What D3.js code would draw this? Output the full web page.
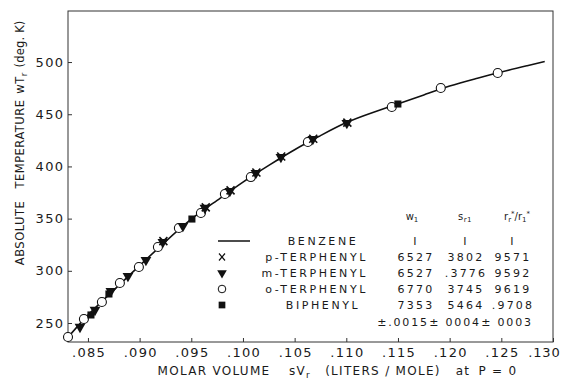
<!DOCTYPE html>
<html>
<head>
<meta charset="utf-8">
<script src="https://cdn.jsdelivr.net/npm/d3@7"></script>
<style>
  html, body { margin: 0; padding: 0; background: #fff; }
  svg text { font-family: "DejaVu Sans", sans-serif; fill: #1a1a1a; }
</style>
</head>
<body>
<svg id="chart" width="563" height="382"></svg>
<script>
// ---- data ----
const xTicks = [0.085, 0.090, 0.095, 0.100, 0.105, 0.110, 0.115, 0.120, 0.125, 0.130];
const yTicks = [250, 300, 350, 400, 450, 500];

// benzene reference curve (molar volume, temperature)
const benzeneV = [0.0830, 0.0850, 0.0875, 0.0900, 0.0925, 0.0950, 0.0975, 0.1000, 0.1025, 0.1050,
                  0.1075, 0.1100, 0.1125, 0.1150, 0.1175, 0.1200, 0.1225, 0.1250, 0.1275, 0.1292];
const benzeneT = [235.5, 257.5, 281.5, 305, 328, 349.5, 367.5, 385, 401, 416,
                  429.5, 442, 451.5, 460, 468.5, 477, 484, 490.5, 496.5, 500.5];

// o-terphenyl (open circles)
const oTerV = [0.08307, 0.08461, 0.08635, 0.08809, 0.08993, 0.09177, 0.0938, 0.09593, 0.09825, 0.10076, 0.10628, 0.1144, 0.11914, 0.12465];
const oTerT = [236.6, 253.8, 270.1, 288.3, 303.6, 322.8, 341, 355.4, 373.6, 389.8, 423.4, 456.9, 475.1, 489.5];

// m-terphenyl (filled down triangles)
const mTerV = [0.08423, 0.08568, 0.08722, 0.08887, 0.09061, 0.09225, 0.09419, 0.09632, 0.09873, 0.10125, 0.10367, 0.10676, 0.11005];
const mTerT = [246.2, 262.5, 280.5, 295, 310.3, 327.6, 342.9, 360.2, 376.4, 393.7, 409, 426.2, 441.6];

// p-terphenyl (x)
const pTerV = [0.0923, 0.0964, 0.0988, 0.1013, 0.1037, 0.1068, 0.1101];
const pTerT = [328.5, 360.8, 377, 394.2, 409.5, 426.5, 442];

// biphenyl (filled squares)
const biphV = [0.08529, 0.08703, 0.09506, 0.11499];
const biphT = [257.7, 277.8, 349.6, 459.8];

// legend table
const legendNames = ["BENZENE", "p-TERPHENYL", "m-TERPHENYL", "o-TERPHENYL", "BIPHENYL"];
const colW  = ["I", "6527", "6527", "6770", "7353"];
const colS  = ["I", "3802", ".3776", "3745", "5464"];
const colR  = ["I", "9571", "9592", "9619", ".9708"];
const errors = ["\u00B1.0015", "\u00B1 0004", "\u00B1 0003"];

// ---- drawing ----
const svg = d3.select("#chart");
const L = 68, R = 553, T = 11, B = 342;
const x = d3.scaleLinear().domain([0.08307, 0.130]).range([L, R]);
const y = d3.scaleLinear().domain([231.8, 548.9]).range([B, T]);
const ink = "#1a1a1a";

// frame
svg.append("rect").attr("x", L).attr("y", T).attr("width", R - L).attr("height", B - T)
  .attr("fill", "none").attr("stroke", "#333").attr("stroke-width", 1);

// axes
const fmtX = d => d3.format(".3f")(d).replace(/^0/, "");
const gx = svg.append("g").attr("transform", `translate(0,${B})`)
  .call(d3.axisBottom(x).tickValues(xTicks).tickSize(-4).tickPadding(6).tickFormat(fmtX));
const gy = svg.append("g").attr("transform", `translate(${L},0)`)
  .call(d3.axisLeft(y).tickValues(yTicks).tickSize(-4).tickPadding(5));
[gx, gy].forEach(g => {
  g.select(".domain").remove();
  g.selectAll(".tick line").attr("stroke", "#333");
  g.selectAll(".tick text").attr("font-size", 13).attr("letter-spacing", 1.3)
    .attr("fill", ink).style("font-family", "DejaVu Sans");
});
gy.selectAll(".tick text").attr("x", -3.7);
gx.selectAll(".tick text").attr("x", 0.6);
gx.selectAll(".tick text").filter(d => Math.abs(d - 0.130) < 1e-9)
  .attr("x", 7).attr("text-anchor", "end").attr("letter-spacing", 0.8);

// axis titles
const xt = svg.append("g").attr("font-size", 12).attr("letter-spacing", 1.3);
xt.append("text").attr("x", 214).attr("y", 375).attr("text-anchor", "middle").text("MOLAR VOLUME");
const sv = xt.append("text").attr("x", 300).attr("y", 375).attr("text-anchor", "middle");
sv.append("tspan").text("sV");
sv.append("tspan").attr("font-size", 9).attr("dy", 3).text("r");
xt.append("text").attr("x", 383).attr("y", 375).attr("text-anchor", "middle").text("(LITERS / MOLE)");
xt.append("text").attr("x", 463).attr("y", 375).attr("text-anchor", "middle").text("at");
xt.append("text").attr("x", 498).attr("y", 375).attr("text-anchor", "middle").text("P = 0");

const yt = svg.append("g").attr("transform", "translate(24,0) rotate(-90)")
  .attr("font-size", 11.5).attr("letter-spacing", 0.5);
yt.append("text").attr("x", -233).attr("y", 0).attr("text-anchor", "middle").text("ABSOLUTE");
yt.append("text").attr("x", -144).attr("y", 0).attr("text-anchor", "middle").text("TEMPERATURE");
const wt = yt.append("text").attr("x", -83).attr("y", 0).attr("text-anchor", "middle");
wt.append("tspan").text("wT");
wt.append("tspan").attr("font-size", 8.5).attr("dy", 3).text("r");
yt.append("text").attr("x", -44).attr("y", 0).attr("text-anchor", "middle").attr("letter-spacing", 0.2).text("(deg. K)");

// benzene curve
const curveData = benzeneV.map((v, i) => [v, benzeneT[i]]);
svg.append("path").datum(curveData)
  .attr("d", d3.line().x(d => x(d[0])).y(d => y(d[1])).curve(d3.curveNatural))
  .attr("fill", "none").attr("stroke", "#111").attr("stroke-width", 1.6);

// markers
const circ = oTerV.map((v, i) => [v, oTerT[i]]);
svg.append("g").selectAll("circle").data(circ).join("circle")
  .attr("cx", d => x(d[0])).attr("cy", d => y(d[1])).attr("r", 4.5)
  .attr("fill", "#fff").attr("stroke", "#111").attr("stroke-width", 1.1);

const sq = biphV.map((v, i) => [v, biphT[i]]);
svg.append("g").selectAll("path").data(sq).join("path")
  .attr("d", d3.symbol(d3.symbolSquare, 50)())
  .attr("transform", d => `translate(${x(d[0])},${y(d[1])})`)
  .attr("fill", "#111");

const tri = mTerV.map((v, i) => [v, mTerT[i]]);
svg.append("g").selectAll("path").data(tri).join("path")
  .attr("d", d3.symbol(d3.symbolTriangle, 50)())
  .attr("transform", d => `translate(${x(d[0])},${y(d[1])}) rotate(180)`)
  .attr("fill", "#111");

const cross = pTerV.map((v, i) => [v, pTerT[i]]);
svg.append("g").selectAll("path").data(cross).join("path")
  .attr("d", "M-4,-4L4,4M-4,4L4,-4")
  .attr("transform", d => `translate(${x(d[0])},${y(d[1])})`)
  .attr("stroke", "#111").attr("stroke-width", 1.6).attr("fill", "none");

// legend table
const lg = svg.append("g").attr("font-size", 11).attr("letter-spacing", 2.6);
const rowY = [245, 261, 277, 293, 309];
// header
const h1 = lg.append("text").attr("x", 412).attr("y", 220).attr("text-anchor", "middle").attr("font-size", 10).attr("letter-spacing", 0);
h1.append("tspan").text("w");
h1.append("tspan").attr("font-size", 7).attr("dy", 2).text("1");
const h2 = lg.append("text").attr("x", 465).attr("y", 220).attr("text-anchor", "middle").attr("font-size", 10).attr("letter-spacing", 0.5);
h2.append("tspan").text("s");
h2.append("tspan").attr("font-size", 7).attr("dy", 2).text("r1");
const h3 = lg.append("text").attr("x", 517).attr("y", 220).attr("text-anchor", "middle").attr("font-size", 10).attr("letter-spacing", 0);
h3.append("tspan").text("r");
h3.append("tspan").attr("font-size", 7).attr("dy", 2).text("r");
h3.append("tspan").attr("font-size", 7).attr("dy", -6).text("*");
h3.append("tspan").attr("dy", 4).text("/r");
h3.append("tspan").attr("font-size", 7).attr("dy", 2).text("1");
h3.append("tspan").attr("font-size", 7).attr("dy", -6).text("*");

// sample symbols
lg.append("line").attr("x1", 218).attr("x2", 250).attr("y1", 241).attr("y2", 241)
  .attr("stroke", "#111").attr("stroke-width", 1.5);
lg.append("path").attr("d", "M-3,-3.5L3,3.5M-3,3.5L3,-3.5")
  .attr("transform", `translate(222,${rowY[1] - 4})`).attr("stroke", "#111").attr("stroke-width", 1.2).attr("fill", "none");
lg.append("path").attr("d", d3.symbol(d3.symbolTriangle, 40)())
  .attr("transform", `translate(222,${rowY[2] - 4}) rotate(180)`).attr("fill", "#111");
lg.append("circle").attr("cx", 222).attr("cy", rowY[3] - 4).attr("r", 3.8)
  .attr("fill", "#fff").attr("stroke", "#111").attr("stroke-width", 1);
lg.append("path").attr("d", d3.symbol(d3.symbolSquare, 45)())
  .attr("transform", `translate(222,${rowY[4] - 4})`).attr("fill", "#111");

// names
legendNames.forEach((n, i) => {
  const centered = (i === 0 || i === 4);
  lg.append("text").attr("x", centered ? 323 : 368).attr("y", rowY[i])
    .attr("text-anchor", centered ? "middle" : "end").text(n);
});
// numbers
[[colW, 416], [colS, 466], [colR, 513]].forEach(([col, cx]) => {
  col.forEach((v, i) => {
    lg.append("text").attr("x", cx).attr("y", rowY[i]).attr("text-anchor", "middle")
      .attr("letter-spacing", 2.2).text(v);
  });
});
errors.forEach((e, i) => {
  lg.append("text").attr("x", [403, 455, 507][i]).attr("y", 326).attr("text-anchor", "middle")
    .attr("letter-spacing", 1.8).text(e);
});
</script>
</body>
</html>
